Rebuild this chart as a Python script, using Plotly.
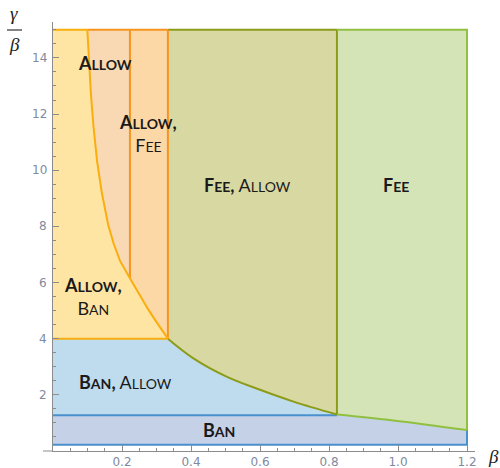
import plotly.graph_objects as go

# ---------------- data ----------------
# upper boundary curve (orange) : beta -> gamma/beta
beta_orange = [0.0995, 0.104, 0.110, 0.117, 0.128, 0.141, 0.160, 0.176, 0.194, 0.223, 0.247, 0.275, 0.305, 0.333]
ratio_orange = [15.0, 13.8, 12.7, 11.6, 10.3, 9.23, 8.05, 7.38, 6.78, 6.15, 5.64, 5.06, 4.50, 4.0]

# lower boundary curve (green) : beta -> gamma/beta
beta_green = [0.333, 0.407, 0.503, 0.600, 0.697, 0.823, 0.986, 1.2]
ratio_green = [4.0, 3.30, 2.65, 2.18, 1.76, 1.30, 1.09, 0.75]

# straight boundaries
beta_allow_fee = 0.223
beta_fee_low = 0.333
beta_fee_high = 0.823
beta_max = 1.2
ratio_ban_bottom = 0.22
ratio_ban_top = 1.27
ratio_allow_low = 4.0
ratio_max = 15.0

x_tick_vals = [0.2, 0.4, 0.6, 0.8, 1.0, 1.2]
x_tick_text = ["0.2", "0.4", "0.6", "0.8", "1.0", "1.2"]
y_tick_vals = [2, 4, 6, 8, 10, 12, 14]
y_tick_text = ["2", "4", "6", "8", "10", "12", "14"]

# ---------------- styling ----------------
C_BAN = "#C5D1E7"
C_BAN_ALLOW = "#BEDCEE"
C_ALLOW_BAN = "#FEE5A3"
C_ALLOW = "#F8D9B3"
C_ALLOW_FEE = "#FCD8A6"
C_FEE_ALLOW = "#D8D8A3"
C_FEE = "#D5E4B7"
L_BLUE = "#4A90CC"
L_GOLD = "#F9AE0E"
L_ORANGE = "#F7941E"
L_OLIVE = "#8C9C18"
L_GREEN = "#90C040"
AXIS = "#8c8c8c"

W, H = 500, 468
# plot area in page pixels
P_LEFT, P_RIGHT, P_TOP, P_BOTTOM = 53, 475, 22, 451
ML, MT = P_LEFT, P_TOP
MR, MB = W - P_RIGHT, H - P_BOTTOM
PX_PER_X = 345.0
PX_PER_Y = 28.08
x_range = [0, (P_RIGHT - P_LEFT) / PX_PER_X]
y_range = [0, (P_BOTTOM - P_TOP) / PX_PER_Y]

fig = go.Figure()

# split curves
o_up_x = [b for b in beta_orange if b <= beta_allow_fee]
o_up_y = [r for b, r in zip(beta_orange, ratio_orange) if b <= beta_allow_fee]
o_lo_x = [b for b in beta_orange if b >= beta_allow_fee]
o_lo_y = [r for b, r in zip(beta_orange, ratio_orange) if b >= beta_allow_fee]
g1_x = [b for b in beta_green if b <= beta_fee_high]
g1_y = [r for b, r in zip(beta_green, ratio_green) if b <= beta_fee_high]
g2_x = [b for b in beta_green if b >= beta_fee_high]
g2_y = [r for b, r in zip(beta_green, ratio_green) if b >= beta_fee_high]


def region(xs, ys, color):
    fig.add_trace(go.Scatter(x=xs, y=ys, mode="lines", fill="toself", fillcolor=color,
                             line=dict(width=0, color=color), hoverinfo="skip", showlegend=False,
                             cliponaxis=False))


def edge(xs, ys, color, shape="linear", width=2):
    fig.add_trace(go.Scatter(x=xs, y=ys, mode="lines", line=dict(color=color, width=width, shape=shape),
                             hoverinfo="skip", showlegend=False, cliponaxis=False))


# BAN
region([0, beta_fee_high] + g2_x + [beta_max, 0],
       [ratio_ban_top, ratio_ban_top] + g2_y + [ratio_ban_bottom, ratio_ban_bottom], C_BAN)
# BAN, ALLOW
region([0, beta_fee_high] + g1_x[::-1] + [0],
       [ratio_ban_top, ratio_ban_top] + g1_y[::-1] + [ratio_allow_low], C_BAN_ALLOW)
# ALLOW, BAN
region([0, beta_fee_low] + beta_orange[::-1] + [0],
       [ratio_allow_low, ratio_allow_low] + ratio_orange[::-1] + [ratio_max], C_ALLOW_BAN)
# ALLOW
region(o_up_x + [beta_allow_fee], o_up_y + [ratio_max], C_ALLOW)
# ALLOW, FEE
region([beta_allow_fee, beta_fee_low, beta_fee_low] + o_lo_x[::-1],
       [ratio_max, ratio_max, ratio_allow_low] + o_lo_y[::-1], C_ALLOW_FEE)
# FEE, ALLOW
region([beta_fee_low, beta_fee_high] + g1_x[::-1],
       [ratio_max, ratio_max] + g1_y[::-1], C_FEE_ALLOW)
# FEE
region([beta_fee_high, beta_max] + g2_x[::-1],
       [ratio_max, ratio_max] + g2_y[::-1], C_FEE)

# edges
edge([0, beta_max, beta_max], [ratio_ban_bottom, ratio_ban_bottom, ratio_green[-1]], L_BLUE)
edge([0, beta_fee_high], [ratio_ban_top, ratio_ban_top], L_BLUE)
edge(g1_x, g1_y, L_OLIVE, "spline")
edge(g2_x, g2_y, L_GREEN, "spline")
edge([beta_fee_high, beta_fee_high], [g1_y[-1], ratio_max], L_OLIVE)
edge([beta_fee_low, beta_fee_high], [ratio_max, ratio_max], L_OLIVE)
edge([beta_fee_high, beta_max, beta_max], [ratio_max, ratio_max, ratio_green[-1]], L_GREEN)
edge([beta_allow_fee, beta_allow_fee], [o_up_y[-1], ratio_max], L_ORANGE)
edge([beta_fee_low, beta_fee_low], [ratio_allow_low, ratio_max], L_ORANGE)
edge([beta_orange[0], beta_fee_low], [ratio_max, ratio_max], L_ORANGE)
edge([0, beta_orange[0]], [ratio_max, ratio_max], L_GOLD)
edge([0, beta_fee_low], [ratio_allow_low, ratio_allow_low], L_GOLD)
edge(beta_orange, ratio_orange, L_GOLD, "linear")


def sc(word, bold):
    s = word[0] + "<span style='font-size:14px'>" + word[1:] + "</span>"
    return "<b>" + s + "</b>" if bold else s


labels = [
    (sc("ALLOW", True), 0.151, 13.83),
    (sc("ALLOW", True) + "<b>,</b><br>" + sc("FEE", False), 0.275, 11.3),
    (sc("ALLOW", True) + "<b>,</b><br>" + sc("BAN", False), 0.116, 5.5),
    (sc("BAN", True) + "<b>,</b> " + sc("ALLOW", False), 0.209, 2.46),
    (sc("BAN", True), 0.48, 0.75),
    (sc("FEE", True) + "<b>,</b> " + sc("ALLOW", False), 0.564, 9.49),
    (sc("FEE", True), 0.993, 9.49),
]
for txt, x, y in labels:
    fig.add_annotation(x=x, y=y, text=txt, showarrow=False, xanchor="center", yanchor="middle",
                       font=dict(family="Lato", size=18, color="#1a1a1a"))


def px2paper(px, py):
    return (px - P_LEFT) / (P_RIGHT - P_LEFT), (P_BOTTOM - py) / (P_BOTTOM - P_TOP)


# y tick labels, right-aligned just left of the y axis
tickfont = dict(family="DejaVu Sans", size=12, color="#7f8aa0")
lab_x, _ = px2paper(49, 0)
for v, t in zip(y_tick_vals, y_tick_text):
    fig.add_annotation(x=lab_x, y=v, xref="paper", yref="y", text=t, showarrow=False,
                       xanchor="right", yanchor="middle", font=tickfont)

serif = dict(family="Liberation Serif", size=19, color="#222")
gx, gy = px2paper(14, 14)
fig.add_annotation(x=gx, y=gy, xref="paper", yref="paper", text="<i>γ</i>", showarrow=False,
                   xanchor="center", yanchor="middle", font=serif)
bx, by = px2paper(14, 44)
fig.add_annotation(x=bx, y=by, xref="paper", yref="paper", text="<i>β</i>", showarrow=False,
                   xanchor="center", yanchor="middle", font=serif)
x0p, yb = px2paper(7, 30)
x1p, _ = px2paper(22, 30)
fig.add_shape(type="line", xref="paper", yref="paper", x0=x0p, x1=x1p, y0=yb, y1=yb,
              line=dict(color="#333", width=1.2))
xx, xy = px2paper(493, 456)
fig.add_annotation(x=xx, y=xy, xref="paper", yref="paper", text="<i>β</i>", showarrow=False,
                   xanchor="center", yanchor="middle", font=serif)
# x-axis line extends a little left of the origin
xa0, ya0 = px2paper(43, P_BOTTOM)
fig.add_shape(type="line", xref="paper", yref="paper", x0=xa0, x1=0, y0=0, y1=0,
              line=dict(color=AXIS, width=1))

fig.update_layout(
    width=W, height=H, template="none",
    margin=dict(l=ML, r=MR, t=MT, b=MB),
    paper_bgcolor="white", plot_bgcolor="white",
    showlegend=False,
    xaxis=dict(range=x_range, showgrid=False, zeroline=False, showline=True, linecolor=AXIS,
               linewidth=1, ticks="inside", ticklen=6, tickcolor=AXIS, tickwidth=1,
               tickvals=x_tick_vals, ticktext=x_tick_text, tickfont=tickfont, automargin=False,
               minor=dict(tickmode="linear", tick0=0, dtick=0.05, ticks="inside", ticklen=3,
                          tickcolor=AXIS, showgrid=False)),
    yaxis=dict(range=y_range, showgrid=False, zeroline=False, showline=True, linecolor=AXIS,
               linewidth=1, ticks="inside", ticklen=6, tickcolor=AXIS, tickwidth=1,
               tickvals=y_tick_vals, showticklabels=False, automargin=False,
               minor=dict(tickmode="linear", tick0=0, dtick=0.5, ticks="inside", ticklen=3,
                          tickcolor=AXIS, showgrid=False)),
)

fig.write_html("out.html", post_script="document.body.style.margin='0';",
               config={"displayModeBar": False})
